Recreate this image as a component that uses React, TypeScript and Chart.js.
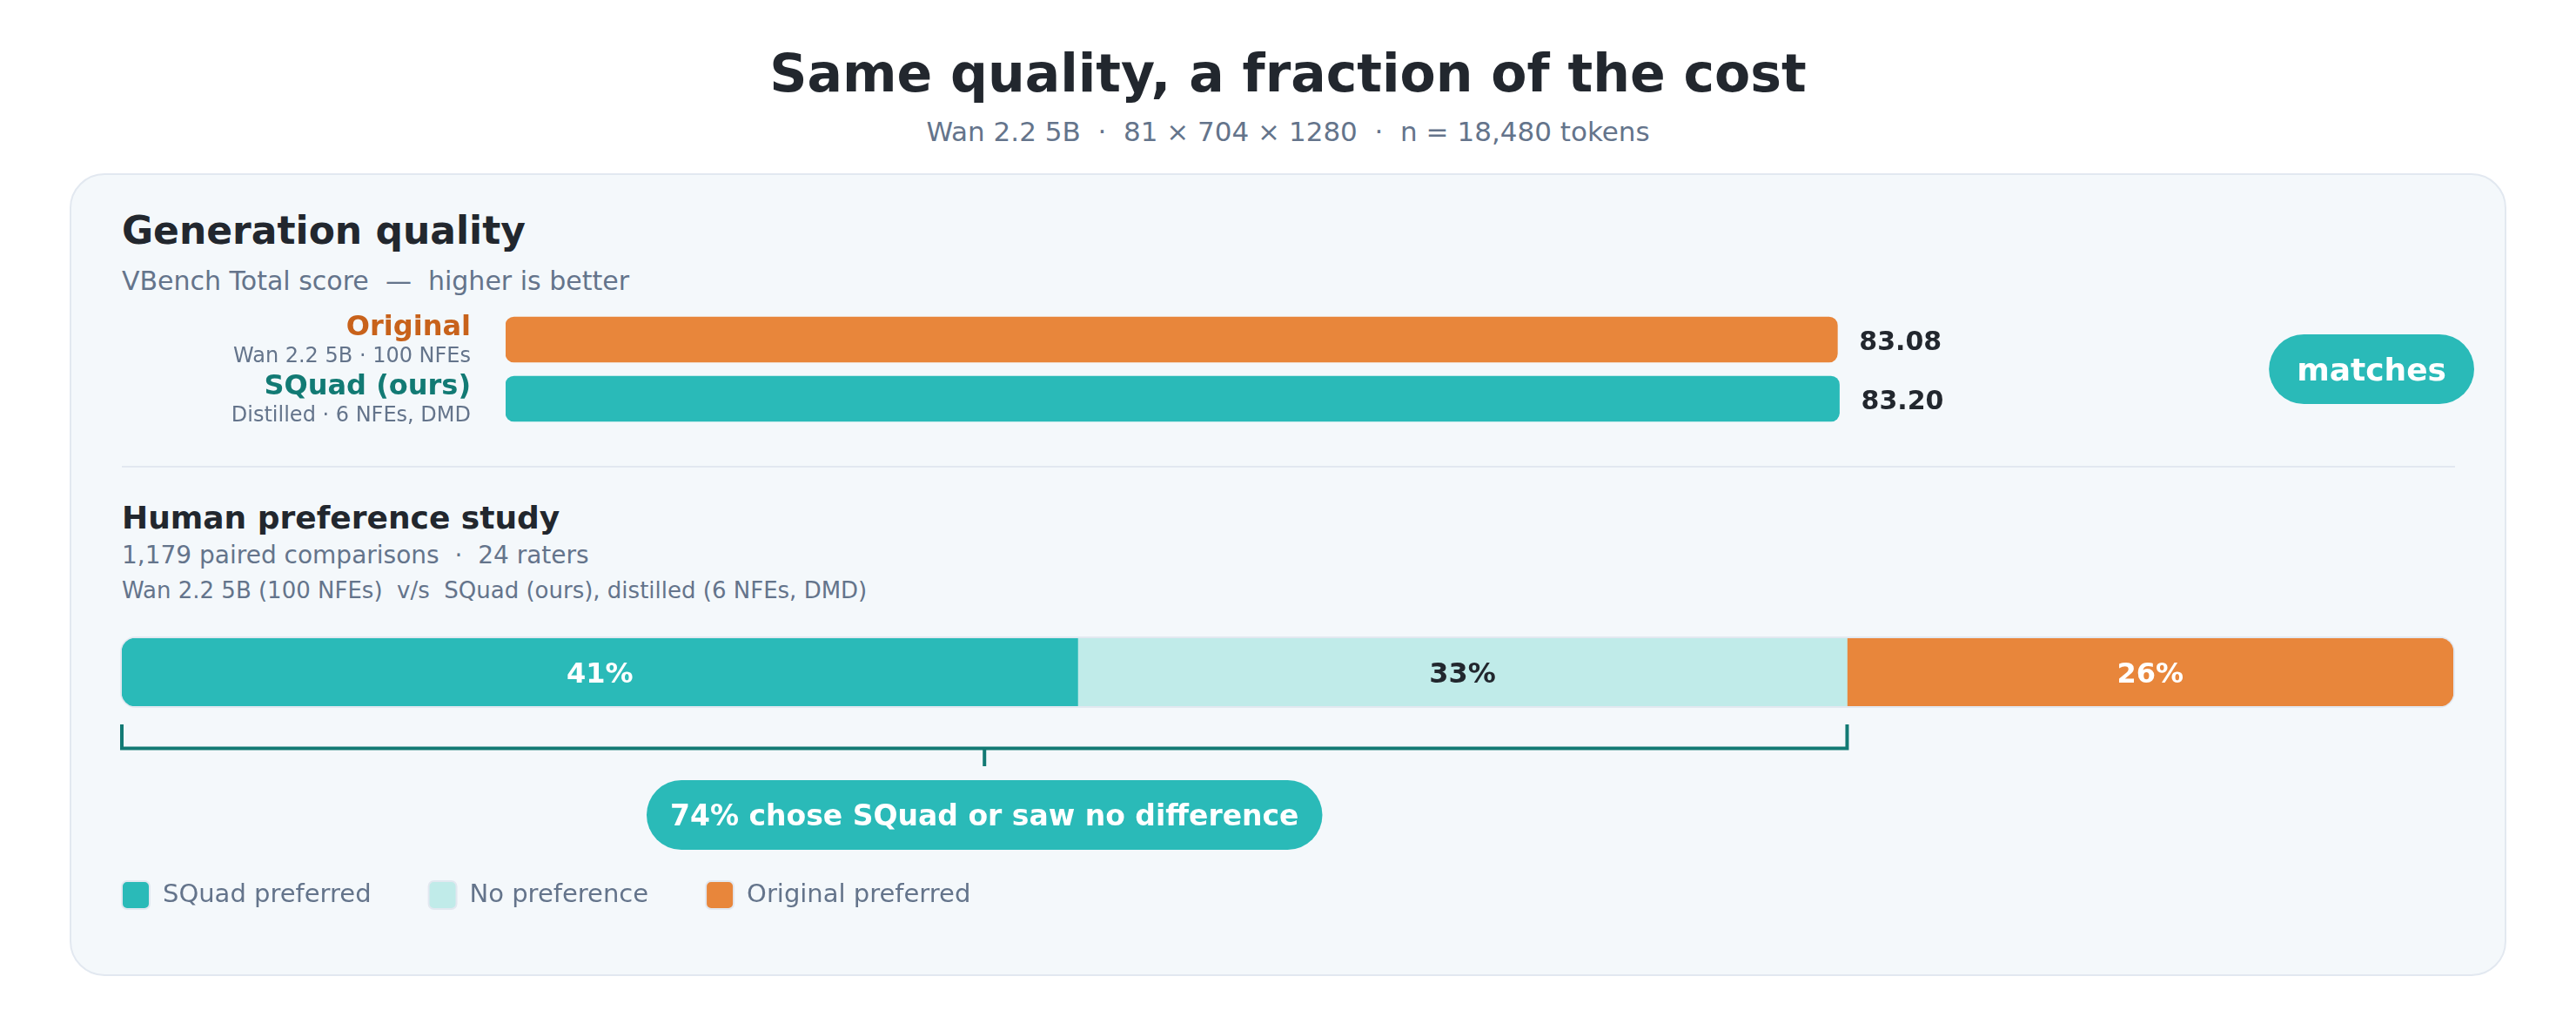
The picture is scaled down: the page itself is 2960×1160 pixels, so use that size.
import { useEffect, useRef, type ReactNode } from "react";
import { Chart, registerables, type Plugin } from "chart.js";

Chart.register(...registerables);

const FONT = "'DejaVu Sans', sans-serif";
const INK = "#22272e";
const MUTED = "#64748b";
const TEAL = "#2abab8";
const TEAL_DARK = "#127a74";
const TEAL_LIGHT = "#c0ebe9";
const ORANGE = "#e8863b";
const ORANGE_DARK = "#c8621b";
const LINE = "#e2e8f0";

// generation quality (VBench total)
const qualityModels = ["Original", "SQuad (ours)"];
const qualityNotes = ["Wan 2.2 5B · 100 NFEs", "Distilled · 6 NFEs, DMD"];
const qualityScores = [83.08, 83.2];
const qualityColors = [ORANGE, TEAL];
const qualityLabelColors = [ORANGE_DARK, TEAL_DARK];

// human preference study (%)
const prefLabels = ["SQuad preferred", "No preference", "Original preferred"];
const prefShares = [41, 33, 26];
const prefColors = [TEAL, TEAL_LIGHT, ORANGE];
const prefTextColors = ["#ffffff", INK, "#ffffff"];
const bracketSeries = 2; // first two segments are grouped by the bracket

const qualityLabels: Plugin<"bar"> = {
  id: "qualityLabels",
  afterDatasetsDraw(chart) {
    const { ctx, chartArea } = chart;
    const bars = chart.getDatasetMeta(0).data;
    const labelX = chartArea.left - 40;
    ctx.save();
    ctx.textBaseline = "alphabetic";
    bars.forEach((bar, i) => {
      const { x, y } = bar.getProps(["x", "y"], true);
      ctx.textAlign = "right";
      ctx.font = `bold 32px ${FONT}`;
      ctx.fillStyle = qualityLabelColors[i];
      ctx.fillText(qualityModels[i], labelX, y - 5);
      ctx.font = `24px ${FONT}`;
      ctx.fillStyle = MUTED;
      ctx.fillText(qualityNotes[i], labelX, y + 26);
      ctx.textAlign = "left";
      ctx.font = `bold 30px ${FONT}`;
      ctx.fillStyle = INK;
      ctx.fillText(qualityScores[i].toFixed(2), x + 25, y + 12);
    });

    // "matches" badge, centred between the two bars
    const mid = (bars[0].y + bars[bars.length - 1].y) / 2;
    ctx.font = `bold 36px ${FONT}`;
    const w = ctx.measureText("matches").width + 64;
    const right = chart.width - 17;
    ctx.fillStyle = TEAL;
    ctx.beginPath();
    ctx.roundRect(right - w, mid - 40, w, 80, 40);
    ctx.fill();
    ctx.fillStyle = "#ffffff";
    ctx.textAlign = "center";
    ctx.fillText("matches", right - w / 2, mid + 13);
    ctx.restore();
  },
};

const prefDecor: Plugin<"bar"> = {
  id: "prefDecor",
  beforeDatasetsDraw(chart) {
    const { ctx, chartArea: a } = chart;
    ctx.save();
    ctx.fillStyle = LINE;
    ctx.beginPath();
    ctx.roundRect(a.left - 2, a.top - 2, a.width + 4, a.height + 4, 18);
    ctx.fill();
    ctx.restore();
  },
  afterDatasetsDraw(chart) {
    const { ctx, chartArea: a } = chart;
    ctx.save();

    // segment labels
    ctx.textAlign = "center";
    ctx.textBaseline = "alphabetic";
    ctx.font = `bold 32px ${FONT}`;
    prefShares.forEach((v, i) => {
      const bar = chart.getDatasetMeta(i).data[0];
      const { x, base, y } = bar.getProps(["x", "base", "y"], true);
      ctx.fillStyle = prefTextColors[i];
      ctx.fillText(`${v}%`, (x + base) / 2, y + 12);
    });

    // bracket over SQuad preferred + no preference
    const xs = chart.scales.x;
    const grouped = prefShares.slice(0, bracketSeries).reduce((s, v) => s + v, 0);
    const x0 = xs.getPixelForValue(0);
    const x1 = xs.getPixelForValue(grouped);
    const xm = (x0 + x1) / 2;
    const by = a.bottom + 48.5;
    ctx.strokeStyle = TEAL_DARK;
    ctx.lineWidth = 4;
    ctx.lineJoin = "miter";
    ctx.beginPath();
    ctx.moveTo(x0, a.bottom + 21);
    ctx.lineTo(x0, by);
    ctx.lineTo(x1, by);
    ctx.lineTo(x1, a.bottom + 21);
    ctx.stroke();
    ctx.beginPath();
    ctx.moveTo(xm, by);
    ctx.lineTo(xm, a.bottom + 69);
    ctx.stroke();

    // callout pill
    const note = `${grouped}% chose SQuad or saw no difference`;
    ctx.font = `bold 33px ${FONT}`;
    const pw = ctx.measureText(note).width + 54;
    const pt = a.bottom + 85;
    ctx.fillStyle = TEAL;
    ctx.beginPath();
    ctx.roundRect(xm - pw / 2, pt, pw, 80, 40);
    ctx.fill();
    ctx.fillStyle = "#ffffff";
    ctx.fillText(note, xm, pt + 52);

    // legend
    let lx = a.left;
    const ly = a.bottom + 201;
    ctx.textAlign = "left";
    ctx.font = `29px ${FONT}`;
    prefLabels.forEach((label, i) => {
      ctx.fillStyle = prefColors[i];
      ctx.strokeStyle = LINE;
      ctx.lineWidth = 2;
      ctx.beginPath();
      ctx.roundRect(lx, ly, 32, 32, 6);
      ctx.fill();
      ctx.stroke();
      ctx.fillStyle = MUTED;
      ctx.fillText(label, lx + 47, ly + 24);
      lx += 47 + ctx.measureText(label).width + 66;
    });
    ctx.restore();
  },
};

function QualityChart() {
  const ref = useRef<HTMLCanvasElement | null>(null);
  useEffect(() => {
    if (!ref.current) return;
    const chart = new Chart(ref.current, {
      type: "bar",
      data: {
        labels: qualityModels,
        datasets: [
          {
            data: qualityScores,
            backgroundColor: qualityColors,
            barThickness: 52,
            borderRadius: 10,
            borderSkipped: false,
          },
        ],
      },
      options: {
        indexAxis: "y",
        responsive: false,
        animation: false,
        events: [],
        layout: { padding: { left: 481, right: 437, top: 16, bottom: 18 } },
        plugins: { legend: { display: false }, tooltip: { enabled: false } },
        scales: {
          x: { display: false, min: 0, max: 100 },
          y: { display: false },
        },
      },
      plugins: [qualityLabels],
    });
    return () => chart.destroy();
  }, []);
  return (
    <canvas
      ref={ref}
      width={2760}
      height={170}
      style={{ position: "absolute", left: 100, top: 340, width: 2760, height: 170 }}
    />
  );
}

function PreferenceChart() {
  const ref = useRef<HTMLCanvasElement | null>(null);
  useEffect(() => {
    if (!ref.current) return;
    const last = prefShares.length - 1;
    const chart = new Chart(ref.current, {
      type: "bar",
      data: {
        labels: ["Human preference"],
        datasets: prefLabels.map((label, i) => ({
          label,
          data: [prefShares[i]],
          backgroundColor: prefColors[i],
          stack: "pref",
          barPercentage: 1,
          categoryPercentage: 1,
          borderSkipped: false,
          borderRadius: {
            topLeft: i === 0 ? 16 : 0,
            bottomLeft: i === 0 ? 16 : 0,
            topRight: i === last ? 16 : 0,
            bottomRight: i === last ? 16 : 0,
          },
        })),
      },
      options: {
        indexAxis: "y",
        responsive: false,
        animation: false,
        events: [],
        layout: { padding: { left: 40, right: 41, top: 13, bottom: 259 } },
        plugins: { legend: { display: false }, tooltip: { enabled: false } },
        scales: {
          x: { display: false, stacked: true, min: 0, max: 100 },
          y: { display: false, stacked: true },
        },
      },
      plugins: [prefDecor],
    });
    return () => chart.destroy();
  }, []);
  return (
    <canvas
      ref={ref}
      width={2760}
      height={350}
      style={{ position: "absolute", left: 100, top: 720, width: 2760, height: 350 }}
    />
  );
}

type TextProps = {
  x?: number;
  baseline: number;
  size: number;
  bold?: boolean;
  color: string;
  center?: boolean;
  children: ReactNode;
};

function Text({ x = 0, baseline, size, bold, color, center, children }: TextProps) {
  return (
    <div
      style={{
        position: "absolute",
        left: center ? 0 : x,
        width: center ? 2960 : undefined,
        textAlign: center ? "center" : "left",
        top: baseline - 0.846 * size,
        fontFamily: FONT,
        fontSize: size,
        lineHeight: `${size}px`,
        fontWeight: bold ? 700 : 400,
        color,
        whiteSpace: "pre",
      }}
    >
      {children}
    </div>
  );
}

export default function App() {
  return (
    <div
      style={{
        position: "absolute",
        left: 0,
        top: 0,
        width: 2960,
        height: 1160,
        background: "#ffffff",
        overflow: "hidden",
      }}
    >
      <Text center baseline={105} size={60} bold color={INK}>
        Same quality, a fraction of the cost
      </Text>
      <Text center baseline={162} size={31} color={MUTED}>
        {"Wan 2.2 5B  ·  81 × 704 × 1280  ·  n = 18,480 tokens"}
      </Text>

      <div
        style={{
          position: "absolute",
          left: 80,
          top: 199,
          width: 2800,
          height: 922,
          boxSizing: "border-box",
          border: `2px solid ${LINE}`,
          borderRadius: 40,
          background: "#f4f8fb",
        }}
      />

      <Text x={140} baseline={280} size={44} bold color={INK}>
        Generation quality
      </Text>
      <Text x={140} baseline={333} size={30} color={MUTED}>
        {"VBench Total score  —  higher is better"}
      </Text>
      <QualityChart />

      <div
        style={{ position: "absolute", left: 140, top: 535, width: 2681, height: 2, background: LINE }}
      />

      <Text x={140} baseline={607} size={36} bold color={INK}>
        Human preference study
      </Text>
      <Text x={140} baseline={648} size={28} color={MUTED}>
        {"1,179 paired comparisons  ·  24 raters"}
      </Text>
      <Text x={140} baseline={687} size={26} color={MUTED}>
        {"Wan 2.2 5B (100 NFEs)  v/s  SQuad (ours), distilled (6 NFEs, DMD)"}
      </Text>
      <PreferenceChart />
    </div>
  );
}
